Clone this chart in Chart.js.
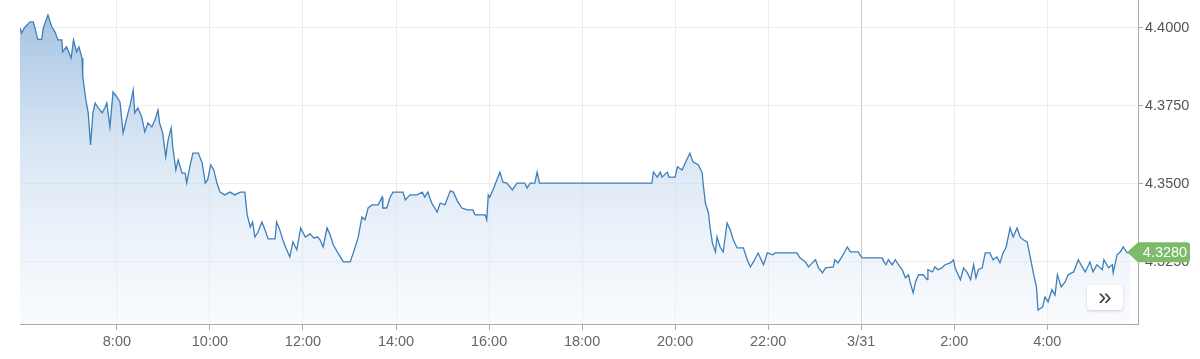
<!DOCTYPE html>
<html>
<head>
<meta charset="utf-8">
<script src="https://cdn.jsdelivr.net/npm/chart.js@4"></script>
<style>
  html, body { margin: 0; padding: 0; background: #fff; }
  #wrap { position: relative; width: 1200px; height: 359px; overflow: hidden; }
  #btn { position: absolute; left: 1087px; top: 285px; width: 36px; height: 25px; background: #fff;
         border-radius: 4px; box-shadow: 0 1px 3px rgba(0,0,0,0.18); font-family: "Liberation Sans", Arial, sans-serif;
         font-size: 24px; line-height: 23px; text-align: center; color: #444; }
</style>
</head>
<body>
<div id="wrap">
  <canvas id="c" width="1200" height="359"></canvas>
  <div id="btn">»</div>
</div>
<script>
// Minutes since 00:00 on 3/30 (1440 = 3/31 00:00)
const times = [
  355,357,361,368,372,374,378,383,385,391,396,400,404,409,410,415,421,424,428,431,
  435,436,440,443,446,449,452,455,461,465,467,471,475,480,484,488,493,497,501,503,
  507,512,516,520,525,529,533,535,539,543,546,550,552,556,559,564,568,570,574,578,
  585,590,594,597,601,605,609,613,619,626,632,639,645,
  648,652,655,658,662,667,671,675,684,686,690,694,698,703,707,712,717,723,729,734,
  739,742,746,751,755,759,765,772,781,787,791,796,800,804,809,817,822,823,828,832,
  836,849,852,858,867,874,877,881,886,893,897,903,910,914,919,925,932,939,942,955,
  957,959,961,965,970,974,978,983,990,996,1006,1009,1013,1019,1022,1025,
  1170,1172,1177,1181,1183,1190,1192,1200,1203,1209,1213,1219,1223,1230,1235,1236,1239,1243,1245,1248,
  1252,1254,1258,1262,1267,1271,1275,1280,1288,1293,1297,1301,1307,1314,1319,1326,1329,1357,1361,
  1368,1372,1377,1381,1385,1390,1394,1404,1406,1410,1415,1422,1426,1436,1441,1467,1468,1472,1475,1480,
  1484,1488,1493,1497,1501,1503,1507,1510,1514,1520,1525,1526,1532,1535,1539,1544,1548,1555,1559,1561,
  1565,1568,1572,1577,1581,1585,1588,1591,1596,1600,1606,1610,1615,1619,1623,1627,1632,1636,1641,1645,
  1649,1654,1658,1662,1666,1668,1674,1677,1681,1686,1690,1693,1698,1703,1707,1714,1720,1725,1729,1735,
  1739,1744,1751,1753,1759,1764,1765,1770,1774,1778,1783,1787
];
const prices = [
  4.3999,4.3983,4.4001,4.4019,4.4019,4.4003,4.3963,4.3963,4.3999,4.4041,4.4003,4.3987,4.3961,4.3961,4.3923,4.3939,4.3903,4.3961,4.3923,4.3939,
  4.3903,4.3842,4.3768,4.3727,4.3624,4.3727,4.3759,4.3746,4.3727,4.3746,4.3759,4.3682,4.3794,4.3778,4.3762,4.3663,4.3714,4.3752,4.3800,4.3727,
  4.3743,4.3714,4.3666,4.3695,4.3682,4.3704,4.3736,4.3695,4.3663,4.3586,4.3640,4.3679,4.3618,4.3544,4.3576,4.3534,4.3534,4.3502,4.3554,4.3598,
  4.3598,4.3566,4.3502,4.3512,4.3560,4.3544,4.3502,4.3473,4.3464,4.3473,4.3464,4.3473,4.3473,
  4.3400,4.3361,4.3377,4.3329,4.3345,4.3377,4.3352,4.3323,4.3323,4.3377,4.3352,4.3320,4.3294,4.3265,4.3313,4.3288,4.3358,4.3329,4.3339,4.3326,
  4.3329,4.3320,4.3297,4.3358,4.3336,4.3304,4.3278,4.3249,4.3249,4.3294,4.3326,4.3393,4.3384,4.3422,4.3432,4.3432,4.3457,4.3422,4.3422,4.3454,
  4.3473,4.3473,4.3448,4.3464,4.3464,4.3473,4.3457,4.3473,4.3438,4.3409,4.3438,4.3432,4.3477,4.3473,4.3445,4.3422,4.3416,4.3416,4.3400,4.3400,
  4.3384,4.3464,4.3457,4.3480,4.3512,4.3537,4.3505,4.3502,4.3480,4.3502,4.3502,4.3486,4.3502,4.3502,4.3537,4.3502,
  4.3502,4.3537,4.3521,4.3537,4.3521,4.3537,4.3521,4.3521,4.3554,4.3544,4.3566,4.3598,4.3570,4.3560,4.3534,4.3502,4.3438,4.3406,4.3361,4.3310,
  4.3281,4.3329,4.3297,4.3281,4.3374,4.3352,4.3320,4.3294,4.3294,4.3256,4.3233,4.3249,4.3278,4.3240,4.3278,4.3272,4.3278,4.3278,4.3262,
  4.3249,4.3233,4.3246,4.3256,4.3230,4.3214,4.3230,4.3233,4.3256,4.3246,4.3265,4.3297,4.3281,4.3281,4.3262,4.3262,4.3256,4.3240,4.3256,4.3240,
  4.3256,4.3240,4.3224,4.3198,4.3208,4.3185,4.3150,4.3185,4.3208,4.3208,4.3192,4.3224,4.3217,4.3233,4.3224,4.3230,4.3240,4.3246,4.3256,4.3230,
  4.3208,4.3192,4.3230,4.3214,4.3192,4.3240,4.3198,4.3224,4.3230,4.3278,4.3278,4.3256,4.3265,4.3246,4.3278,4.3297,4.3358,4.3329,4.3358,4.3329,
  4.3320,4.3313,4.3265,4.3214,4.3169,4.3095,4.3105,4.3137,4.3121,4.3160,4.3143,4.3208,4.3169,4.3185,4.3208,4.3217,4.3256,4.3233,4.3217,4.3249,
  4.3217,4.3240,4.3224,4.3256,4.3230,4.3240,4.3214,4.3272,4.3281,4.3297,4.3278,4.3280
];
const xTickValues = [480, 600, 720, 840, 960, 1080, 1200, 1320, 1440, 1560, 1680];
const xTickLabels = ["8:00", "10:00", "12:00", "14:00", "16:00", "18:00", "20:00", "22:00", "3/31", "2:00", "4:00"];
const yTickValues = [4.325, 4.35, 4.375, 4.4];
const lastPrice = prices[prices.length - 1];

const FONT = "'Liberation Sans', Arial, sans-serif";

const priceTag = {
  id: 'priceTag',
  afterDraw(chart) {
    const ctx = chart.ctx;
    const y = chart.scales.y.getPixelForValue(lastPrice);
    const tip = 1127, left = 1138, right = 1190, h = 10, r = 3;
    ctx.save();
    ctx.fillStyle = '#7dba6b';
    ctx.beginPath();
    ctx.moveTo(tip, y);
    ctx.lineTo(left, y - h);
    ctx.lineTo(right - r, y - h);
    ctx.quadraticCurveTo(right, y - h, right, y - h + r);
    ctx.lineTo(right, y + h - r);
    ctx.quadraticCurveTo(right, y + h, right - r, y + h);
    ctx.lineTo(left, y + h);
    ctx.closePath();
    ctx.fill();
    ctx.fillStyle = '#ffffff';
    ctx.font = '14.5px ' + FONT;
    ctx.textAlign = 'center';
    ctx.textBaseline = 'middle';
    ctx.fillText(lastPrice.toFixed(4), (left + right) / 2 + 1, y + 0.5);
    ctx.restore();
  }
};

new Chart(document.getElementById('c'), {
  type: 'line',
  data: {
    datasets: [{
      data: times.map((t, i) => ({ x: t, y: prices[i] })),
      borderColor: '#3d7fba',
      borderWidth: 1.3,
      pointRadius: 0,
      tension: 0,
      fill: 'start',
      backgroundColor: (context) => {
        const { ctx, chartArea } = context.chart;
        if (!chartArea) return 'rgba(160,190,225,0.5)';
        const g = ctx.createLinearGradient(0, chartArea.top, 0, chartArea.bottom);
        g.addColorStop(0, 'rgba(140,178,218,0.85)');
        g.addColorStop(0.45, 'rgba(190,212,236,0.6)');
        g.addColorStop(1, 'rgba(240,245,252,0.4)');
        return g;
      }
    }]
  },
  options: {
    responsive: false,
    devicePixelRatio: 1,
    animation: false,
    layout: { padding: { left: 20, top: 0, right: 0, bottom: 0 } },
    plugins: { legend: { display: false }, tooltip: { enabled: false } },
    scales: {
      x: {
        type: 'linear',
        min: 355,
        max: 1797,
        afterBuildTicks: (s) => { s.ticks = xTickValues.map(v => ({ value: v })); },
        afterFit: (s) => { s.height = 35; s.paddingLeft = 0; s.paddingRight = 0; },
        ticks: {
          autoSkip: false,
          maxRotation: 0,
          padding: 3,
          color: '#666',
          font: { family: FONT, size: 14.5 },
          callback: (v) => xTickLabels[xTickValues.indexOf(v)]
        },
        grid: {
          color: (c) => (c.tick && c.tick.value === 1440) ? '#c9c9c9' : '#ececec',
          tickColor: '#aaa',
          tickLength: 6,
          lineWidth: 1
        },
        border: { display: true, color: '#a9a9a9', width: 1 }
      },
      y: {
        position: 'right',
        min: 4.305,
        max: 4.4089,
        afterBuildTicks: (s) => { s.ticks = yTickValues.map(v => ({ value: v })); },
        afterFit: (s) => { s.width = 62; s.paddingTop = 0; s.paddingBottom = 0; },
        ticks: {
          padding: 2,
          color: '#555',
          font: { family: FONT, size: 14.5 },
          callback: (v) => Number(v).toFixed(4)
        },
        grid: {
          color: '#ececec',
          tickColor: '#aaa',
          tickLength: 5,
          lineWidth: 1
        },
        border: { display: true, color: '#a9a9a9', width: 1 }
      }
    }
  },
  plugins: [priceTag]
});
</script>
</body>
</html>
